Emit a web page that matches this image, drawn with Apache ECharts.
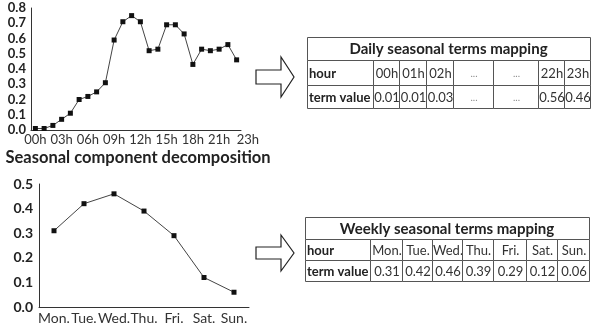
<!DOCTYPE html>
<html>
<head>
<meta charset="utf-8">
<script src="https://cdn.jsdelivr.net/npm/echarts@6/dist/echarts.min.js"></script>
<style>
  html, body { margin: 0; padding: 0; background: #fff; }
  #chart { width: 598px; height: 328px; }
</style>
</head>
<body>
<div id="chart"></div>
<script>
// hourly seasonal terms (top chart)
const hours = ['00h','01h','02h','03h','04h','05h','06h','07h','08h','09h','10h','11h',
  '12h','13h','14h','15h','16h','17h','18h','19h','20h','21h','22h','23h']
const hourValues = [0.01, 0.01, 0.03, 0.07, 0.11, 0.20, 0.22, 0.25, 0.31, 0.59, 0.71, 0.75,
  0.71, 0.52, 0.53, 0.69, 0.69, 0.63, 0.43, 0.53, 0.52, 0.53, 0.56, 0.46]
const hourTicks = ['0.0','0.1','0.2','0.3','0.4','0.5','0.6','0.7','0.8']

// weekly seasonal terms (bottom chart)
const days = ['Mon.','Tue.','Wed.','Thu.','Fri.','Sat.','Sun.']
const dayValues = [0.31, 0.42, 0.46, 0.39, 0.29, 0.12, 0.06]
const dayTicks = ['0.0','0.1','0.2','0.3','0.4','0.5']

// mapping tables
const dailyTitle = 'Daily seasonal terms mapping'
const dailyHeader = ['00h','01h','02h','...','...','22h','23h']
const dailyTerms = ['0.01','0.01','0.03','...','...','0.56','0.46']
const weeklyTitle = 'Weekly seasonal terms mapping'
const weeklyHeader = days
const weeklyTerms = ['0.31','0.42','0.46','0.39','0.29','0.12','0.06']
const rowNames = ['hour', 'term value']
const chartTitle = 'Seasonal component decomposition'

const FONT = 'Lato, "Open Sans", sans-serif'

// builds a table as graphic elements
function makeTable (x, y, cols, rows, title, header, terms) {
  const els = []
  const w = cols[cols.length - 1] - cols[0]
  els.push({ type: 'rect', shape: { x: x + 0.5, y: y + 0.5, width: w, height: rows[0] },
    style: { fill: '#fff', stroke: '#555', lineWidth: 1 } })
  els.push({ type: 'text', style: { x: x + w / 2, y: y + rows[0] / 2 + 1, text: title,
    font: 'bold 15px ' + FONT, fill: '#222', align: 'center', verticalAlign: 'middle' } })
  let top = y + rows[0]
  const lines = [header, terms]
  for (let r = 0; r < 2; r++) {
    const h = rows[r + 1]
    for (let c = 0; c < cols.length - 1; c++) {
      const cx = x + cols[c] - cols[0]
      const cw = cols[c + 1] - cols[c]
      els.push({ type: 'rect', shape: { x: cx + 0.5, y: top + 0.5, width: cw, height: h },
        style: { fill: '#fff', stroke: '#555', lineWidth: 1 } })
      if (c === 0) {
        els.push({ type: 'text', style: { x: cx + 2, y: top + h / 2 + 1, text: rowNames[r],
          font: 'bold 13px ' + FONT, fill: '#222', align: 'left', verticalAlign: 'middle' } })
      } else {
        const t = lines[r][c - 1]
        els.push({ type: 'text', style: { x: cx + cw / 2 + 1, y: top + h / 2 + 1, text: t,
          font: (t === '...' ? '10px ' : '13px ') + FONT, fill: t === '...' ? '#888' : '#333',
          align: 'center', verticalAlign: 'middle' } })
      }
    }
    top += h
  }
  return els
}

function arrow (x, y, len, headX, shaftH, headH) {
  const my = y
  return {
    type: 'polygon',
    shape: { points: [
      [x, my - shaftH / 2], [x + headX, my - shaftH / 2], [x + headX, my - headH / 2],
      [x + len, my], [x + headX, my + headH / 2], [x + headX, my + shaftH / 2], [x, my + shaftH / 2]
    ] },
    style: { fill: '#fff', stroke: '#222', lineWidth: 1.2 }
  }
}

const axisCommon = {
  axisLine: { lineStyle: { color: '#333', width: 1 } },
  axisTick: { inside: true, length: 3, lineStyle: { color: '#333' } },
  splitLine: { show: false }
}

// last hour label sits to the right of its point, as in the source figure
const hourItems = hours.map((h, i) => i === hours.length - 1 ? { value: h, textStyle: { align: 'left' } } : h)

const chart = echarts.init(document.getElementById('chart'))
chart.setOption({
  animation: false,
  backgroundColor: '#fff',
  grid: [
    { left: 31, right: 357, top: 8, bottom: 198, outerBoundsMode: 'none', containLabel: false },
    { left: 39, right: 349, top: 184, bottom: 21, outerBoundsMode: 'none', containLabel: false }
  ],
  xAxis: [
    Object.assign({}, axisCommon, {
      type: 'category', gridIndex: 0, data: hourItems, boundaryGap: true,
      axisTick: { inside: true, length: 3, interval: 0, lineStyle: { color: '#333' } },
      axisLabel: { interval: (i) => i % 3 === 0 || i === 23, hideOverlap: false,
        showMaxLabel: true, fontFamily: FONT, fontSize: 13, color: '#333', margin: 3 }
    }),
    Object.assign({}, axisCommon, {
      type: 'category', gridIndex: 1, data: days, boundaryGap: true,
      axisLabel: { interval: 0, fontFamily: FONT, fontSize: 14, color: '#333', margin: 4 }
    })
  ],
  yAxis: [
    Object.assign({}, axisCommon, {
      type: 'value', gridIndex: 0, min: 0, max: 0.8, interval: 0.1,
      axisLine: { show: true, lineStyle: { color: '#333', width: 1 } },
      axisLabel: { formatter: (v, i) => hourTicks[i], fontFamily: FONT, fontSize: 13,
        fontWeight: 'bold', color: '#222', margin: 5 }
    }),
    Object.assign({}, axisCommon, {
      type: 'value', gridIndex: 1, min: 0, max: 0.5, interval: 0.1,
      axisLine: { show: true, lineStyle: { color: '#333', width: 1 } },
      axisLabel: { formatter: (v, i) => dayTicks[i], fontFamily: FONT, fontSize: 14,
        fontWeight: 'bold', color: '#222', margin: 6 }
    })
  ],
  series: [
    {
      type: 'line', xAxisIndex: 0, yAxisIndex: 0, data: hourValues,
      symbol: 'rect', symbolSize: 5, showAllSymbol: true,
      lineStyle: { color: '#444', width: 1 }, itemStyle: { color: '#111' }
    },
    {
      type: 'line', xAxisIndex: 1, yAxisIndex: 1, data: dayValues,
      symbol: 'rect', symbolSize: 5,
      lineStyle: { color: '#444', width: 1 }, itemStyle: { color: '#111' }
    }
  ],
  graphic: [
    { type: 'text', style: { x: 138, y: 158, text: chartTitle, font: 'bold 16.5px ' + FONT,
      fill: '#222', align: 'center', verticalAlign: 'middle' } },
    arrow(256, 77, 38, 25, 14, 40),
    arrow(256, 253, 38, 25, 12, 36),
    ...makeTable(307, 37, [307, 373, 399, 426, 453, 493, 538, 564, 590], [23, 25, 23],
      dailyTitle, dailyHeader, dailyTerms),
    ...makeTable(305, 217, [305, 370, 402, 432, 462, 493, 526, 557, 589], [22, 21, 21],
      weeklyTitle, weeklyHeader, weeklyTerms)
  ]
})
</script>
</body>
</html>
